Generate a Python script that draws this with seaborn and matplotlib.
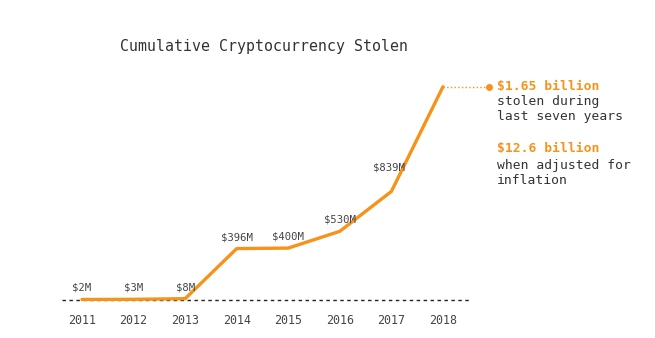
import pandas as pd
import seaborn as sns
import matplotlib.pyplot as plt

years = [2011, 2012, 2013, 2014, 2015, 2016, 2017, 2018]
stolen = [2, 3, 8, 396, 400, 530, 839, 1650]  # $M, cumulative
labels = ['$2M', '$3M', '$8M', '$396M', '$400M', '$530M', '$839M', '']

df = pd.DataFrame({'Year': years, 'Stolen': stolen})

orange = '#F7931A'
mono = 'DejaVu Sans Mono'

sns.set_style('white')
plt.rcParams['font.family'] = [mono, 'DejaVu Sans']

fig = plt.figure(figsize=(6.55, 3.38), dpi=100)
ax = fig.add_axes([62 / 655, 37 / 338, 408 / 655, 241 / 338])

ax.axhline(0, color='#222222', linestyle=(0, (2.5, 2.5)), linewidth=1.0, zorder=1, clip_on=False)
sns.lineplot(x='Year', y='Stolen', data=df, color=orange, linewidth=2.4, ax=ax, zorder=3)
ax.set_xlim(2010.612, 2018.524)
ax.set_ylim(-10, 1857)

for i, (x, y, t) in enumerate(zip(years, stolen, labels)):
    if not t:
        continue
    dx = -0.05 if i == 6 else 0
    dy = 150 if i == 6 else 50
    ax.text(x + dx, y + dy, t, ha='center', va='bottom', fontsize=7.6, color='#444444')

# callout for the final total
ax.plot([2018, 2018.9], [1650, 1650], color=orange, linestyle=':', linewidth=1, clip_on=False)
ax.plot([2018.9], [1650], 'o', color=orange, markersize=4, clip_on=False)
tx = 2019.05
ax.text(tx, 1650, '$1.65 billion', color=orange, fontsize=9.4, fontweight='bold', va='center', clip_on=False)
ax.text(tx, 1535, 'stolen during', color='#333333', fontsize=9.4, va='center', clip_on=False)
ax.text(tx, 1418, 'last seven years', color='#333333', fontsize=9.4, va='center', clip_on=False)
ax.text(tx, 1170, '$12.6 billion', color=orange, fontsize=9.4, fontweight='bold', va='center', clip_on=False)
ax.text(tx, 1040, 'when adjusted for', color='#333333', fontsize=9.4, va='center', clip_on=False)
ax.text(tx, 920, 'inflation', color='#333333', fontsize=9.4, va='center', clip_on=False)

fig.text(120 / 655, 1 - 47 / 338, 'Cumulative Cryptocurrency Stolen', fontsize=10.7,
         color='#333333', va='center', ha='left')

ax.set_xticks(years)
ax.set_xticklabels([str(y) for y in years])
ax.tick_params(axis='x', length=0, pad=9, labelsize=8.4, labelcolor='#444444')
ax.set_yticks([])
ax.set_xlabel('')
ax.set_ylabel('')
sns.despine(ax=ax, left=True, bottom=True)

fig.savefig('out.png', dpi=100, facecolor='white')
